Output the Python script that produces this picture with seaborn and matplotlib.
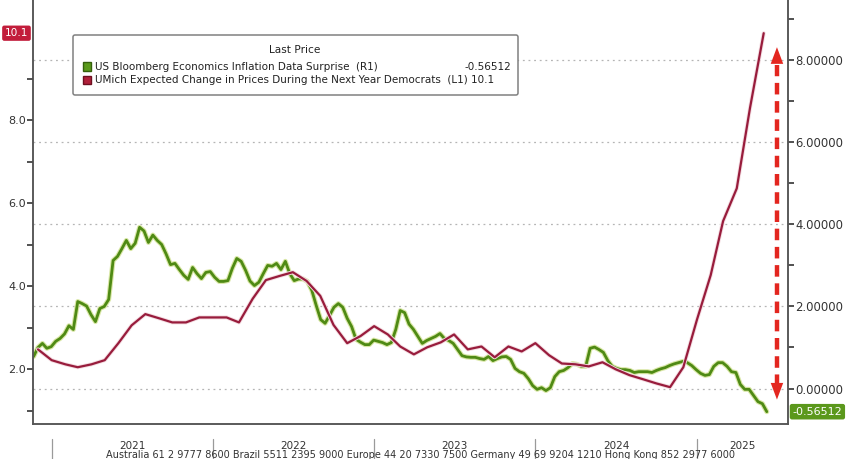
import numpy as np
import pandas as pd
import matplotlib.pyplot as plt
import matplotlib.dates as mdates
import matplotlib.patheffects as pe
import matplotlib.transforms as mtransforms
from matplotlib.patches import Patch
from matplotlib.ticker import FixedLocator, FormatStrFormatter
import seaborn as sns

sns.set_style('white')
plt.rcParams['font.family'] = ['DejaVu Sans']

# UMich expected change in prices during the next year, Democrats (monthly, L1)
umich_start = '2020-12-01'
umich_dem = [2.48,
             2.22, 2.12, 2.05, 2.12, 2.22, 2.63, 3.06, 3.33, 3.23, 3.13, 3.13, 3.25,
             3.25, 3.25, 3.13, 3.70, 4.15, 4.25, 4.34, 4.13, 3.77, 3.07, 2.63, 2.80,
             3.04, 2.84, 2.55, 2.36, 2.53, 2.65, 2.84, 2.48, 2.55, 2.29, 2.55, 2.43,
             2.63, 2.34, 2.14, 2.12, 2.07, 2.17, 2.00, 1.86, 1.76, 1.66, 1.57, 2.05,
             3.20, 4.27, 5.57, 6.36, 8.30, 10.1]

# US Bloomberg Economics inflation data surprise (R1), read every 10 days
surprise_start = '2020-11-21'
surprise = [0.78, 1.00, 1.10, 0.98, 1.02, 1.15, 1.22, 1.33, 1.53, 1.44,
            2.12, 2.07, 2.01, 1.80, 1.63, 1.95, 2.00, 2.17, 3.12, 3.22,
            3.41, 3.61, 3.41, 3.54, 3.93, 3.84, 3.56, 3.74, 3.61, 3.51,
            3.28, 3.02, 3.05, 2.90, 2.76, 2.66, 2.95, 2.80, 2.68, 2.83,
            2.85, 2.71, 2.61, 2.61, 2.63, 2.93, 3.17, 3.10, 2.88, 2.62,
            2.51, 2.59, 2.80, 3.00, 2.98, 3.05, 2.90, 3.10, 2.80, 2.63,
            2.67, 2.67, 2.61, 2.39, 2.02, 1.68, 1.59, 1.78, 1.98, 2.07,
            1.98, 1.71, 1.51, 1.20, 1.13, 1.07, 1.07, 1.18, 1.15, 1.12,
            1.07, 1.12, 1.44, 1.90, 1.85, 1.57, 1.44, 1.27, 1.10, 1.17,
            1.22, 1.27, 1.34, 1.22, 1.17, 1.10, 0.95, 0.80, 0.77, 0.76,
            0.76, 0.73, 0.71, 0.78, 0.68, 0.73, 0.77, 0.78, 0.71, 0.49,
            0.41, 0.37, 0.24, 0.07, -0.02, 0.02, -0.05, 0.02, 0.29, 0.41,
            0.44, 0.51, 0.61, 0.59, 0.54, 0.54, 0.98, 1.01, 0.95, 0.88,
            0.68, 0.54, 0.49, 0.46, 0.46, 0.44, 0.39, 0.41, 0.41, 0.41,
            0.39, 0.44, 0.48, 0.51, 0.56, 0.60, 0.63, 0.66, 0.63, 0.56,
            0.46, 0.37, 0.32, 0.34, 0.54, 0.63, 0.63, 0.54, 0.41, 0.39,
            0.10, -0.02, -0.02, -0.17, -0.32, -0.37, -0.56512]

years = [2021, 2022, 2023, 2024, 2025]
label_green = 'US Bloomberg Economics Inflation Data Surprise  (R1)'
label_red = 'UMich Expected Change in Prices During the Next Year Democrats  (L1) 10.1'
last_green = '-0.56512'
last_red = '10.1'
footer = ('Australia 61 2 9777 8600 Brazil 5511 2395 9000 Europe 44 20 7330 7500 '
          'Germany 49 69 9204 1210 Hong Kong 852 2977 6000')

green_c = '#4f8a14'
red_c = '#981c3c'
arrow_c = '#e3261f'
grid_c = '#b5b5b5'
axis_c = '#555555'
text_c = '#333333'

df_red = pd.DataFrame({'date': pd.date_range(umich_start, periods=len(umich_dem), freq='MS'),
                       'value': umich_dem})
df_green = pd.DataFrame({'date': pd.date_range(surprise_start, periods=len(surprise), freq='10D'),
                         'value': surprise})

fig = plt.figure(figsize=(8.48, 4.59), dpi=100)
ax = fig.add_axes([32.7 / 848, 35 / 459, 755.3 / 848, 424 / 459])
ax2 = ax.twinx()
ax.set_zorder(2)
ax2.set_zorder(1)
ax.patch.set_visible(False)

sns.lineplot(data=df_green, x='date', y='value', ax=ax2, color=green_c, lw=2.0,
             path_effects=[pe.Stroke(linewidth=3.6, foreground='#d9e7a6'), pe.Normal()])
sns.lineplot(data=df_red, x='date', y='value', ax=ax, color=red_c, lw=1.6,
             path_effects=[pe.Stroke(linewidth=2.9, foreground='#f4dde2'), pe.Normal()])

ax.set_xlim(pd.Timestamp('2020-11-19'), pd.Timestamp('2025-07-26'))
ax.set_ylim(0.682, 10.90)
ax2.set_ylim(-0.865, 9.47)
ax.set_xlabel('')
ax.set_ylabel('')
ax2.set_xlabel('')
ax2.set_ylabel('')

# axes and ticks
for a in (ax, ax2):
    for s in a.spines.values():
        s.set_color(axis_c)
        s.set_linewidth(1.1)
    a.spines['top'].set_visible(False)

ax.yaxis.set_major_locator(FixedLocator([2, 4, 6, 8]))
ax.yaxis.set_minor_locator(FixedLocator([1, 3, 5, 7, 9]))
ax.yaxis.set_major_formatter(FormatStrFormatter('%.1f'))
ax2.yaxis.set_major_locator(FixedLocator([0, 2, 4, 6, 8]))
ax2.yaxis.set_minor_locator(FixedLocator([1, 3, 5, 7, 9]))
ax2.yaxis.set_major_formatter(FormatStrFormatter('%.5f'))

ax.xaxis.set_major_locator(mdates.MonthLocator(bymonth=[1, 4, 7, 10]))
ax.xaxis.set_minor_locator(mdates.MonthLocator())
ax.xaxis.set_major_formatter(plt.NullFormatter())

ax.tick_params(axis='y', which='both', direction='out', length=4, width=1.1,
               color='#222222', labelsize=8, labelcolor=text_c, pad=1)
ax2.tick_params(axis='y', which='both', direction='out', length=4, width=1.1,
                color='#222222', labelsize=8.4, labelcolor=text_c, pad=1)
ax.tick_params(axis='x', which='both', direction='out', length=3, width=1,
               color=axis_c)

ax2.grid(axis='y', color=grid_c, linestyle=(0, (1.5, 3)), linewidth=0.9)
ax2.grid(axis='x', color=grid_c, linestyle=(0, (1.5, 3)), linewidth=0.9)
ax.grid(False)

# year labels and separators below the axis
xaxis_tr = ax.get_xaxis_transform()
xmax = mdates.num2date(ax.get_xlim()[1]).replace(tzinfo=None)
for y in years:
    start = pd.Timestamp(f'{y}-01-01')
    end = min(pd.Timestamp(f'{y + 1}-01-01'), pd.Timestamp(xmax))
    ax.plot([start, start], [-0.036, -0.085], transform=xaxis_tr, clip_on=False,
            color='#9a9a9a', lw=0.9)
    ax.text(start + (end - start) / 2, -0.051, str(y), transform=xaxis_tr,
            ha='center', va='center', fontsize=7.5, color=text_c)

fig.text(106 / 848, 1 - 458 / 459, footer, ha='left', va='baseline',
         fontsize=7, color=text_c)

# red dashed double arrow (change in UMich)
arrow_x = pd.Timestamp('2025-07-01')
ax2.plot([arrow_x, arrow_x], [0.05, 7.88], color=arrow_c, lw=3.2,
         linestyle=(0, (2.6, 1.5)), solid_capstyle='butt', zorder=5)
for tip, base in ((8.32, 7.85), (-0.27, 0.2)):
    ax2.annotate('', xy=(arrow_x, tip), xytext=(arrow_x, base),
                 arrowprops=dict(arrowstyle='-|>,head_length=1.2,head_width=0.45',
                                 color=arrow_c, lw=0, mutation_scale=10,
                                 shrinkA=0, shrinkB=0), zorder=6)

# last value tags
red_tr = mtransforms.blended_transform_factory(ax.transAxes, ax.transData)
ax.text(-0.006, umich_dem[-1], last_red, transform=red_tr, ha='right', va='center',
        fontsize=7.6, color='white', clip_on=False,
        bbox=dict(boxstyle='round,pad=0.25,rounding_size=0.2', fc='#c21d3b', ec='none'))
green_tr = mtransforms.blended_transform_factory(ax2.transAxes, ax2.transData)
ax2.text(1.006, surprise[-1], last_green, transform=green_tr, ha='left', va='center',
         fontsize=8, color='white', clip_on=False,
         bbox=dict(boxstyle='round,pad=0.25,rounding_size=0.2', fc='#5b981c', ec='none'))

# legend
handles = [Patch(facecolor='#5a9a1a', edgecolor='#35600c', label=label_green),
           Patch(facecolor='#b0203a', edgecolor='#6d1020', label=label_red)]
leg = ax.legend(handles=handles, title='Last Price', loc='upper left',
                bbox_to_anchor=(0.053, 0.6, 0.589, 0.317), mode='expand',
                borderaxespad=0, fontsize=7.5, title_fontsize=7.6,
                handlelength=0.85, handleheight=0.85, handletextpad=0.3,
                labelspacing=0.32, borderpad=0.95, frameon=True, fancybox=True,
                framealpha=1, edgecolor='#808080')
leg.get_frame().set_linewidth(1.1)
leg._legend_box.sep = 5
for t in leg.get_texts():
    t.set_color('#222222')
leg.get_title().set_color('#222222')

fig.canvas.draw()
renderer = fig.canvas.get_renderer()
frame = leg.get_frame().get_window_extent(renderer)
row = leg.get_texts()[0].get_window_extent(renderer)
fig.text((frame.x1 - 6) / fig.bbox.width, (row.y0 + row.y1) / 2 / fig.bbox.height,
         last_green, ha='right', va='center', fontsize=7.5, color='#222222', zorder=10)

fig.savefig('out.png', dpi=100, facecolor='white')
